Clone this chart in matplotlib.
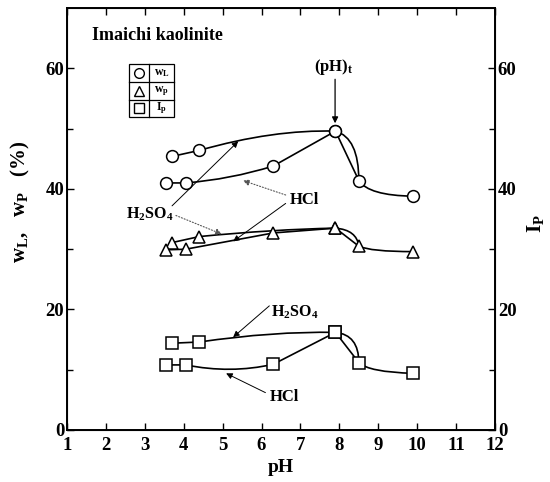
import matplotlib
matplotlib.use('Agg')
import matplotlib.pyplot as plt
from matplotlib.path import Path
from matplotlib.patches import PathPatch, Rectangle

plt.rcParams['font.family'] = 'Liberation Serif'
plt.rcParams['font.weight'] = 'bold'
plt.rcParams['mathtext.fontset'] = 'custom'
plt.rcParams['mathtext.rm'] = 'Liberation Serif:bold'
plt.rcParams['mathtext.it'] = 'Liberation Serif:bold'
plt.rcParams['mathtext.bf'] = 'Liberation Serif:bold'

# pH of the samples (acid side per acid, alkaline side shared)
ph_h2so4 = [3.7, 4.4, 7.9]
ph_hcl = [3.55, 4.05, 6.3, 7.9]
ph_alk = [8.5, 9.9]

# liquid limit wL (%)
wl_h2so4 = [45.4, 46.4, 49.6]
wl_hcl = [41.0, 41.0, 43.8, 49.6]
wl_alk = [41.4, 38.8]

# plastic limit wP (%)
wp_h2so4 = [31.1, 32.1, 33.5]
wp_hcl = [29.9, 30.0, 32.7, 33.5]
wp_alk = [30.5, 29.6]

# plasticity index Ip
ip_h2so4 = [14.4, 14.6, 16.2]
ip_hcl = [10.8, 10.8, 10.9, 16.2]
ip_alk = [11.2, 9.4]

fig = plt.figure(figsize=(5.5, 4.82), dpi=100)
ax = fig.add_axes([0.1218, 0.1079, 0.7782, 0.8751])


def curve(xs, ys, bends, lw=1.2):
    """Polyline with optional quadratic bends (control point or None per segment)."""
    verts = [(xs[0], ys[0])]
    codes = [Path.MOVETO]
    for i, b in enumerate(bends):
        p = (xs[i + 1], ys[i + 1])
        if b is None:
            verts.append(p)
            codes.append(Path.LINETO)
        else:
            verts += [b, p]
            codes += [Path.CURVE3, Path.CURVE3]
    ax.add_patch(PathPatch(Path(verts, codes), fill=False, ec='black', lw=lw, zorder=2))


series = [
    ('o', wl_h2so4, wl_hcl, wl_alk, (6.3, 49.9), (5.2, 41.6), (8.5, 48.5), (8.75, 38.9)),
    ('^', wp_h2so4, wp_hcl, wp_alk, (6.3, 33.3), None, (8.45, 33.2), (8.8, 29.6)),
    ('s', ip_h2so4, ip_hcl, ip_alk, (6.3, 16.4), (5.2, 9.3), (8.5, 15.8), (8.75, 9.6)),
]

for mk, yh, yc, ya, c_h, c_c, c_bulge, c_tail in series:
    # H2SO4 branch, curving over the peak down to pH 8.5
    curve(ph_h2so4 + ph_alk[:1], yh + ya[:1], [None, c_h, c_bulge])
    # HCl branch, straight down from the peak
    curve(ph_hcl + ph_alk[:1], yc + ya[:1], [None, c_c, None, None])
    # shared alkaline tail
    curve(ph_alk, ya, [c_tail])
    ms = 8.5 if mk != '^' else 9
    for xs, ys in ((ph_h2so4, yh), (ph_hcl, yc), (ph_alk, ya)):
        ax.plot(xs, ys, ls='none', marker=mk, ms=ms, mfc='white', mec='black',
                mew=1.1, zorder=3)

ax.set_xlim(1, 12)
ax.set_ylim(0, 70)
ax.set_xticks(range(1, 13))
ax.set_yticks([0, 20, 40, 60])
ax.set_yticks([10, 30, 50], minor=True)
ax.tick_params(which='both', direction='in', top=True, labelsize=13.5, width=1)
ax.tick_params(which='major', length=5)
ax.tick_params(which='minor', length=4)
ax.tick_params(axis='x', pad=5)
ax.tick_params(axis='y', pad=2)
for s in ax.spines.values():
    s.set_linewidth(1.4)

ax2 = ax.twinx()
ax2.set_ylim(0, 70)
ax2.set_yticks([0, 20, 40, 60])
ax2.set_yticks([10, 30, 50], minor=True)
ax2.tick_params(which='both', direction='in', labelsize=13.5, width=1, pad=2)
ax2.tick_params(which='major', length=5)
ax2.tick_params(which='minor', length=4)

ax.set_xlabel('pH', fontsize=14, fontweight='bold')
ax.xaxis.set_label_coords(0.5, -0.068)
ax.set_ylabel(r'$\mathregular{w_L}$,   $\mathregular{w_P}$   (%)', fontsize=15, fontweight='bold')
ax.yaxis.set_label_coords(-0.082, 0.54)
ax2.set_ylabel(r'$\mathregular{I_P}$', fontsize=15, fontweight='bold')
ax2.yaxis.set_label_coords(1.07, 0.49)

ax.text(1.64, 65.5, 'Imaichi kaolinite', fontsize=13, fontweight='bold', va='center')

# symbol key drawn as a small table
x0, x1, xm = 2.59, 3.75, 3.11
y0, y1 = 51.9, 60.7
ax.add_patch(Rectangle((x0, y0), x1 - x0, y1 - y0, fill=False, ec='black', lw=0.9, zorder=4))
ax.plot([xm, xm], [y0, y1], color='black', lw=0.9, zorder=4)
rh = (y1 - y0) / 3
for k, (mk, lab) in enumerate([('o', r'$\mathregular{w_L}$'), ('^', r'$\mathregular{w_p}$'),
                               ('s', r'$\mathregular{I_p}$')]):
    yc = y1 - rh * (k + 0.5)
    if k:
        ax.plot([x0, x1], [y1 - rh * k] * 2, color='black', lw=0.9, zorder=4)
    ax.plot([(x0 + xm) / 2], [yc], marker=mk, ms=7, mfc='white', mec='black', mew=1, zorder=4)
    ax.text((xm + x1) / 2, yc, lab, fontsize=8.5, ha='center', va='center')

# transition pH marker
ax.text(7.84, 60.3, r'$\mathregular{(pH)_t}$', fontsize=12, ha='center', va='center')
ax.annotate('', xy=(7.89, 50.9), xytext=(7.89, 58.2),
            arrowprops=dict(arrowstyle='-|>', color='black', lw=0.9,
                            mutation_scale=9, shrinkA=0, shrinkB=0))

solid = dict(arrowstyle='-|>', color='black', lw=0.7, mutation_scale=9, shrinkA=0, shrinkB=0)
dotted = dict(arrowstyle='-|>', color='#555555', lw=0.8, ls=':', mutation_scale=9,
              shrinkA=0, shrinkB=0)

ax.text(3.13, 35.8, r'$\mathregular{H_2SO_4}$', fontsize=11.5, ha='center', va='center')
ax.annotate('', xy=(5.4, 47.9), xytext=(3.7, 37.2), arrowprops=solid)
ax.annotate('', xy=(4.98, 32.5), xytext=(3.8, 35.6), arrowprops=dotted)

ax.text(7.1, 38.1, 'HCl', fontsize=12, ha='center', va='center')
ax.annotate('', xy=(5.52, 41.4), xytext=(6.62, 39.0), arrowprops=dotted)
ax.annotate('', xy=(5.27, 31.3), xytext=(6.62, 37.6), arrowprops=solid)

ax.text(6.84, 19.6, r'$\mathregular{H_2SO_4}$', fontsize=11.5, ha='center', va='center')
ax.annotate('', xy=(5.27, 15.4), xytext=(6.2, 20.6), arrowprops=solid)

ax.text(6.6, 5.5, 'HCl', fontsize=12, ha='center', va='center')
ax.annotate('', xy=(5.09, 9.4), xytext=(6.1, 6.2), arrowprops=solid)

fig.savefig('out.png', dpi=100, facecolor='white')
